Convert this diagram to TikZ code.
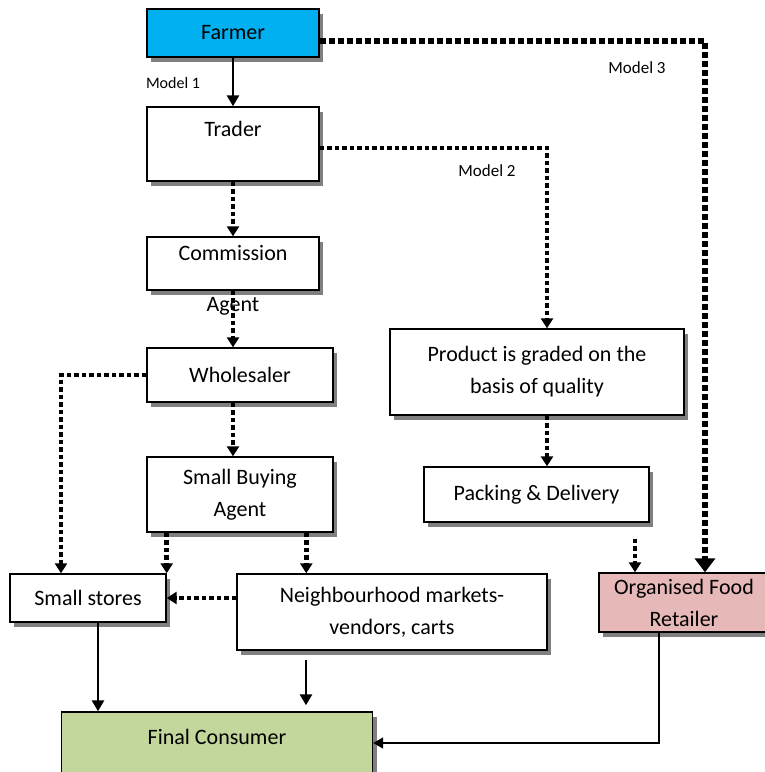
\documentclass[tikz,border=0pt]{standalone}
\usepackage{fontspec}
\setmainfont{Carlito}
\usetikzlibrary{arrows.meta,shadows}

\definecolor{farmerblue}{HTML}{00B0F0}
\definecolor{retailpink}{HTML}{E6B9B8}
\definecolor{consumergreen}{HTML}{C3D69B}

\begin{document}
\begin{tikzpicture}
        [x=1pt, y=-1pt, font=\fontsize{22}{32}\selectfont,
        box/.style={draw, line width=1.4pt, fill=white, align=center, inner sep=2pt,
                drop shadow={shadow xshift=4pt, shadow yshift=-5pt, fill=black!50, opacity=1}},
        link/.style={line width=2.8pt, -{Triangle[width=12pt,length=11pt]}},
        dots/.style={line width=4.6pt, dash pattern=on 4.5pt off 3pt, -{Triangle[width=12pt,length=10pt]}},
        bigdots/.style={line width=6.5pt, dash pattern=on 6pt off 3pt, -{Triangle[width=20pt,length=14pt]}},
        thin/.style={line width=1.4pt, -{Triangle[width=11pt,length=10pt]}},
        modeltxt/.style={font=\fontsize{17}{20}\selectfont}]

        \useasboundingbox (0,0) rectangle (764,772);

        % model 1 chain
        \node[box, fill=farmerblue, minimum width=172, minimum height=48] (farmer) at (233,33) {Farmer};
        \node[box, minimum width=172, minimum height=74, text height=15pt, text depth=30pt] (trader) at (233,144) {Trader};
        \node[box, minimum width=172, minimum height=53, text height=15pt, text depth=22pt,
                label={[name=agent, inner sep=1pt, yshift=-5pt]below:Agent}] (comm) at (233,263.5) {Commission};
        \node[box, minimum width=186, minimum height=54] (whole) at (240,375) {Wholesaler};
        \node[box, minimum width=186, minimum height=75] (sba) at (240,494.5) {Small Buying\\Agent};
        \node[box, minimum width=156, minimum height=48] (stores) at (88,598) {Small stores};
        \node[box, minimum width=310, minimum height=76] (neigh) at (392,612) {Neighbourhood markets-\\vendors, carts};

        % model 2 chain
        \node[box, minimum width=294, minimum height=86] (graded) at (537,372) {Product is graded on the\\basis of quality};
        \node[box, minimum width=225, minimum height=55] (packing) at (536.5,494.5) {Packing \& Delivery};

        % end points
        \node[box, fill=retailpink, minimum width=170, minimum height=59] (retail) at (684,602.5) {Organised Food\\Retailer};
        \node[box, fill=consumergreen, minimum width=311, minimum height=62, text depth=12pt] (final) at (217,743) {Final Consumer};

        % labels for the models
        \node[font=\fontsize{16}{19}\selectfont] (m1) at (173,83) {Model 1};
        \node[modeltxt] (m2) at (487,171) {Model 2};
        \node[modeltxt] (m3) at (637,68) {Model 3};

        % solid links
        \draw[link] (farmer) -- (trader);
        \draw[link] ([xshift=10pt]stores.south) -- ([xshift=10pt]stores.south |- final.north);
        \draw[link, shorten <=9pt, shorten >=6pt] ([xshift=-86pt]neigh.south) -- ([xshift=-86pt]neigh.south |- final.north);
        \draw[thin] ([xshift=-25pt]retail.south) |- (final.east);

        % dotted links
        \draw[dots] (trader) -- (comm);
        \draw[dots] (comm.south) -- (comm.south |- whole.north);
        \draw[dots] (comm.south |- whole.south) -- (comm.south |- sba.north);
        \draw[dots] (whole.west) -| ([xshift=-27pt]stores.north);
        \draw[dots] (sba.south -| stores.north east) -- (stores.north east);
        \draw[dots] ([xshift=160pt]sba.south west) -- ([xshift=160pt]sba.south west |- neigh.north);
        \draw[dots] (neigh.west |- stores.east) -- (stores.east);
        \draw[dots] ([yshift=-4pt]trader.east) -| ([xshift=10pt]graded.north);
        \draw[dots] ([xshift=10pt]graded.south) -- ([xshift=10pt]graded.south |- packing.north);
        \draw[dots, shorten <=16pt] ([xshift=-49pt]retail.north |- packing.south) -- ([xshift=-49pt]retail.north);
        \draw[bigdots] ([yshift=-8pt]farmer.east) -| ([xshift=21pt]retail.north);

\end{tikzpicture}
\end{document}
